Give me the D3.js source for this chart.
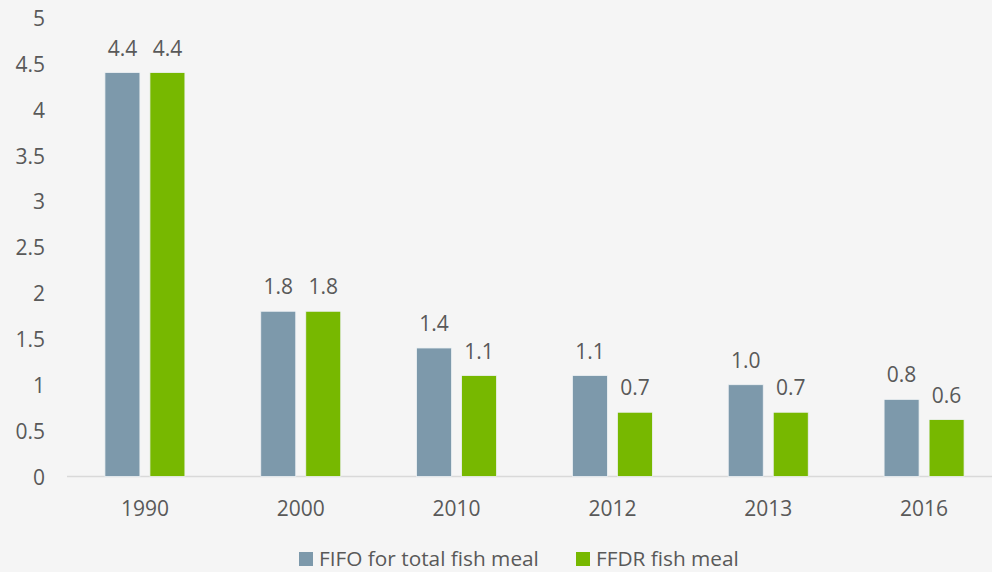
<!DOCTYPE html>
<html><head><meta charset="utf-8">
<script src="https://cdn.jsdelivr.net/npm/d3@7"></script>
<style>
html,body{margin:0;padding:0;background:#f5f5f5;}
svg{display:block;font-family:"Open Sans",sans-serif;}
</style></head>
<body>
<svg id="c" width="992" height="572"></svg>
<script>
const categories = ["1990","2000","2010","2012","2013","2016"];
const seriesNames = ["FIFO for total fish meal","FFDR fish meal"];
const fifoValues = [4.4, 1.8, 1.4, 1.1, 1.0, 0.84];
const ffdrValues = [4.4, 1.8, 1.1, 0.7, 0.7, 0.62];
const fifoLabels = ["4.4","1.8","1.4","1.1","1.0","0.8"];
const ffdrLabels = ["4.4","1.8","1.1","0.7","0.7","0.6"];
const yTicks = [0,0.5,1,1.5,2,2.5,3,3.5,4,4.5,5];
const colors = ["#7d99ab","#77b800"];

const svg = d3.select("#c");
const x0 = d3.scaleBand().domain(categories).range([67, 1002]).padding(0);
const x1 = d3.scaleBand().domain([0,1]).range([-40, 40]).paddingInner(10/45);
const y = d3.scaleLinear().domain([0,5]).range([476.5, 17.5]);

const textColor = "#595959";

// y tick labels
svg.append("g").selectAll("text").data(yTicks).join("text")
  .attr("x", 45).attr("y", d => y(d) + 1).attr("dy", "0.35em")
  .attr("text-anchor", "end").attr("font-size", 21).attr("fill", textColor)
  .text(d => d3.format("")(d));

// axis line
svg.append("line").attr("x1", 67).attr("x2", 1002)
  .attr("y1", y(0)).attr("y2", y(0))
  .attr("stroke", "#d9d9d9").attr("stroke-width", 1.5);

const data = categories.map((c,i) => ({cat:c, vals:[fifoValues[i], ffdrValues[i]], labs:[fifoLabels[i], ffdrLabels[i]]}));

const g = svg.append("g").selectAll("g").data(data).join("g")
  .attr("transform", d => `translate(${x0(d.cat) + x0.bandwidth()/2},0)`);

g.selectAll("rect").data(d => d.vals.map((v,k)=>({v,k}))).join("rect")
  .attr("x", d => x1(d.k)).attr("width", x1.bandwidth())
  .attr("y", d => y(d.v)).attr("height", d => y(0) - y(d.v))
  .attr("fill", d => colors[d.k])
  .attr("stroke", "#eef2f4").attr("stroke-width", 0.8);

g.selectAll("text.v").data(d => d.vals.map((v,k)=>({v,k,l:d.labs[k]}))).join("text")
  .attr("class","v")
  .attr("x", d => x1(d.k) + x1.bandwidth()/2)
  .attr("y", d => y(d.v) - 17)
  .attr("text-anchor","middle").attr("font-size", 21).attr("fill", textColor)
  .text(d => d.l);

// x labels
svg.append("g").selectAll("text").data(categories).join("text")
  .attr("x", d => x0(d) + x0.bandwidth()/2).attr("y", 516)
  .attr("text-anchor","middle").attr("font-size", 21).attr("fill", textColor)
  .text(d => d);

// legend
const legX = [299, 576];
const leg = svg.append("g").selectAll("g").data(seriesNames).join("g")
  .attr("transform", (d,i) => `translate(${legX[i]},552)`);
leg.append("rect").attr("width", 14).attr("height", 14).attr("fill", (d,i)=>colors[i]);
leg.append("text").attr("x", 20).attr("y", 14).attr("font-size", 20.8).attr("fill", textColor)
  .text(d => d);
</script>
</body></html>
